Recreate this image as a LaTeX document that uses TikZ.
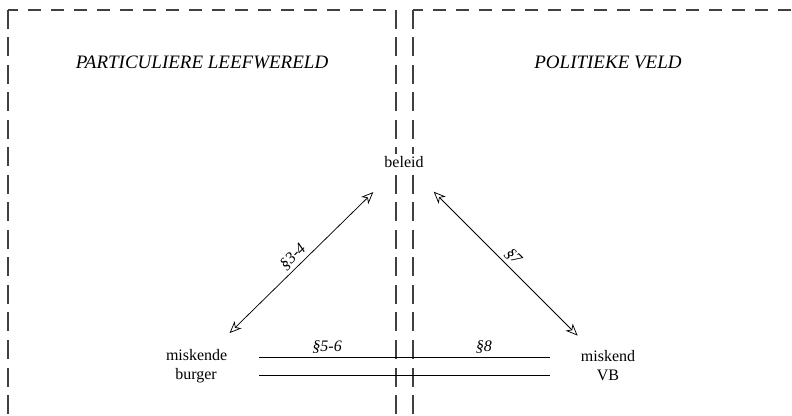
\documentclass[tikz,border=0pt]{standalone}
\usepackage{fontspec}
\setmainfont{Liberation Serif}
\usetikzlibrary{arrows.meta}

\begin{document}
\begin{tikzpicture}[x=1pt,y=1pt,
    hdash/.style={draw=black!75, line width=1.1pt, dash pattern=on 13pt off 10pt, dash phase=3pt},
    vdash/.style={draw=black!75, line width=1.1pt, dash pattern=on 19pt off 8.5pt},
    veld/.style={font=\fontsize{19}{22}\selectfont\itshape},
    actor/.style={font=\fontsize{16}{19}\selectfont, align=center, text width=60pt, inner sep=0pt},
    paragraaf/.style={font=\fontsize{16}{19}\selectfont\itshape},
    pijl/.style={{Stealth[open,length=12pt,width=10pt,inset=3.5pt]}-{Stealth[open,length=12pt,width=10pt,inset=3.5pt]}, line width=0.75pt},
    lijn/.style={line width=0.9pt}]
    \useasboundingbox (0,0) rectangle (792,415);

    \draw[hdash] (8,405) -- (396,405);
    \draw[vdash] (8,405) -- (8,-10);
    \draw[vdash] (396,405) -- (396,-10);
    \draw[hdash] (413,405) -- (800,405);
    \draw[vdash] (413,405) -- (413,-10);

    \node[veld] (particulier) at (202,353) {PARTICULIERE LEEFWERELD};
    \node[veld] (politiek) at (608,353) {POLITIEKE VELD};

    \node[font=\fontsize{16}{19}\selectfont, fill=white, inner sep=2pt] (beleid) at (404,253) {beleid};
    \node[actor] (burger) at (196,49) {miskende\\burger};
    \node[actor] (vb) at (608,49) {miskend\\VB};

    \draw[pijl, shorten <=47pt, shorten >=43pt] (burger.center) -- node[paragraaf, sloped, above, pos=0.5] (p34) {§3-4} (beleid.center);
    \draw[pijl, shorten <=42pt, shorten >=43pt] (beleid.center) -- node[paragraaf, sloped, above, pos=0.5] (p7) {§7} (vb.center);

    \draw[lijn, shorten <=33pt, shorten >=28pt] ([yshift=9pt]burger.east) -- node[paragraaf, above, pos=0.287] (p56) {§5-6} node[paragraaf, above, pos=0.733] (p8) {§8} ([yshift=9pt]vb.west);
    \draw[lijn, shorten <=33pt, shorten >=28pt] ([yshift=-9pt]burger.east) -- ([yshift=-9pt]vb.west);
\end{tikzpicture}
\end{document}
